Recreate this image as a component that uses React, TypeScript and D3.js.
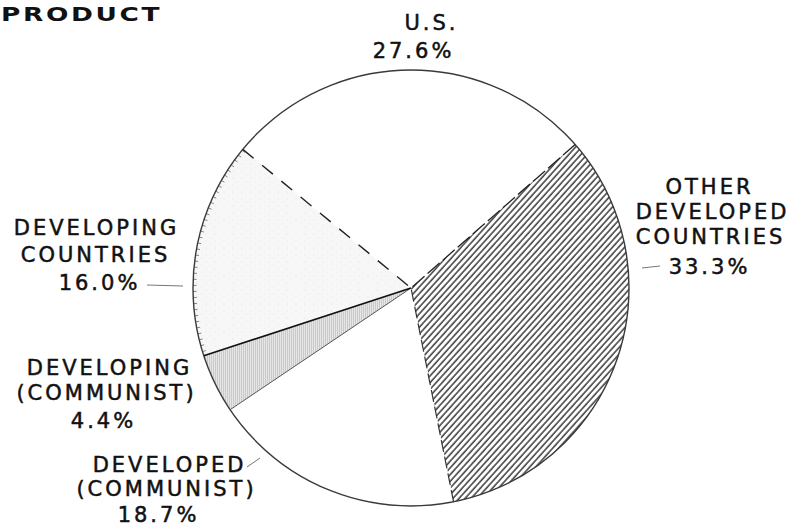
import React from "react";
import * as d3 from "d3";

const categories = ["U.S.", "OTHER DEVELOPED COUNTRIES", "DEVELOPED (COMMUNIST)", "DEVELOPING (COMMUNIST)", "DEVELOPING COUNTRIES"];
const values = [27.6, 33.3, 18.7, 4.4, 16.0];
const nameLines = [["U.S."], ["OTHER", "DEVELOPED", "COUNTRIES"], ["DEVELOPED", "(COMMUNIST)"], ["DEVELOPING", "(COMMUNIST)"], ["DEVELOPING", "COUNTRIES"]];
const title = "PRODUCT";

// layout
const W = 790, H = 532;
const CX = 411, CY = 288, R = 218;
const START_DEG = -50.5;
const fills = ["#ffffff", "url(#hatch)", "#ffffff", "url(#stipple)", "url(#light)"];
// label line positions: [x, baseline] per line (last line is the percentage)
const labelPos: [number, number][][] = [
  [[430, 30], [412, 58]],
  [[708, 194], [711, 219], [709, 244], [708, 274]],
  [[168, 472], [165, 496], [157, 522]],
  [[108, 375], [105, 400], [102, 428]],
  [[95, 235], [94, 262], [98, 290]],
];
const leaders: ([number, number][] | null)[] = [
  null,
  [[642, 268], [660, 266]],
  [[247, 467], [260, 458]],
  null,
  [[147, 285], [183, 286]],
];

export default function App() {
  const pie = d3.pie<number>().sort(null).value((d) => d)
    .startAngle((START_DEG * Math.PI) / 180)
    .endAngle((START_DEG * Math.PI) / 180 + 2 * Math.PI);
  const arcs = pie(values);
  const arcGen = d3.arc<d3.PieArcDatum<number>>().innerRadius(0).outerRadius(R);
  const pt = (a: number, r: number) => [Math.sin(a) * r, -Math.cos(a) * r];

  const edgeStyles = [
    { stroke: "#222", dash: "14 11", w: 1.4 }, // start of US (=end of developing)
    { stroke: "#222", dash: "16 4", w: 1.3 },
    { stroke: "#333", dash: "12 5", w: 1.2 },
    { stroke: "#555", dash: "", w: 1.0 },
    { stroke: "#111", dash: "", w: 1.6 },
  ];

  const dev = arcs[4];
  const ticks = d3.range(dev.startAngle + 0.02, dev.endAngle, 0.028);

  return (
    <svg width={W} height={H} style={{ position: "absolute", left: 0, top: 0, background: "#fff" }}>
      <defs>
        <pattern id="hatch" width="4.5" height="10" patternUnits="userSpaceOnUse" patternTransform="rotate(42)">
          <rect width="4.5" height="10" fill="#fff" />
          <line x1="1" y1="0" x2="1" y2="10" stroke="#3a3a3a" strokeWidth="1.5" />
        </pattern>
        <pattern id="stipple" width="4" height="2" patternUnits="userSpaceOnUse">
          <rect width="4" height="2" fill="#ececec" />
          <line x1="0" y1="1" x2="4" y2="1" stroke="#8a8a8a" strokeWidth="0.7" strokeDasharray="1.2 0.8" />
        </pattern>
        <pattern id="light" width="9" height="7" patternUnits="userSpaceOnUse">
          <rect width="9" height="7" fill="#f7f7f7" />
          <circle cx="2" cy="2" r="0.5" fill="#dcdcdc" />
          <circle cx="6.5" cy="5.5" r="0.4" fill="#e2e2e2" />
        </pattern>
      </defs>
      <text transform="translate(1,21) scale(1.32,1)" fontFamily="DejaVu Sans" fontWeight="bold" fontSize={20} letterSpacing={2} fill="#111">{title}</text>
      <g transform={`translate(${CX},${CY})`}>
        {arcs.map((a, i) => (
          <path key={categories[i]} d={arcGen(a) || ""} fill={fills[i]} stroke="none" />
        ))}
        {ticks.map((t, i) => {
          const [x1, y1] = pt(t, R);
          const [x2, y2] = pt(t, R - 3.5);
          return <line key={"t" + i} x1={x1} y1={y1} x2={x2} y2={y2} stroke="#777" strokeWidth={0.9} />;
        })}
        <circle r={R} fill="none" stroke="#3a3a3a" strokeWidth={1.4} />
        {arcs.map((a, i) => {
          const [x, y] = pt(a.startAngle, R);
          const s = edgeStyles[i];
          return <line key={"e" + i} x1={x} y1={y} x2={0} y2={0} stroke={s.stroke} strokeWidth={s.w} strokeDasharray={s.dash || undefined} />;
        })}
      </g>
      {arcs.map((a, i) => {
        const lines = [...nameLines[i], `${values[i].toFixed(1)}%`];
        return (
          <g key={"l" + i} fontFamily="DejaVu Sans" fontSize={21} fill="#111" stroke="#111" strokeWidth={0.5} letterSpacing={3} textAnchor="middle">
            {lines.map((ln, j) => (
              <text key={j} x={labelPos[i][j][0] + 1.5} y={labelPos[i][j][1]}>{ln}</text>
            ))}
          </g>
        );
      })}
      {leaders.map((l, i) =>
        l ? <line key={"ld" + i} x1={l[0][0]} y1={l[0][1]} x2={l[1][0]} y2={l[1][1]} stroke="#777" strokeWidth={1} /> : null
      )}
    </svg>
  );
}
